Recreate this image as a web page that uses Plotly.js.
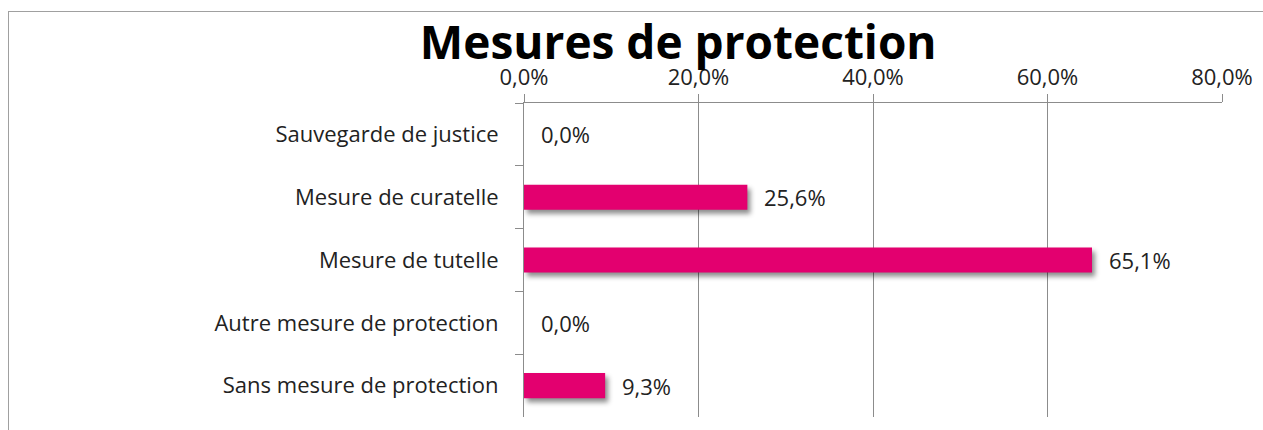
<!DOCTYPE html>
<html>
<head>
<meta charset="utf-8">
<script src="https://cdn.plot.ly/plotly-3.0.1.min.js"></script>
<style>
  html, body { margin:0; padding:0; overflow:hidden; background:#fff; }
  #frame { position:absolute; left:8px; top:11px; width:1400px; height:600px; border:1.5px solid #a0a0a0; box-sizing:border-box; pointer-events:none; z-index:5; }
  #chart { position:absolute; left:0; top:0; width:1263px; height:430px; }
  #chart .barlayer .point path { filter: drop-shadow(3px 4px 2.5px rgba(0,0,0,0.45)); }
</style>
</head>
<body>
<div id="chart"></div>
<div id="frame"></div>
<script>
const categories = ["Sauvegarde de justice", "Mesure de curatelle", "Mesure de tutelle", "Autre mesure de protection", "Sans mesure de protection"];
const values = [0.0, 25.6, 65.1, 0.0, 9.3];
const tickValues = [0, 20, 40, 60, 80];
const tickLabels = ["0,0%", "20,0%", "40,0%", "60,0%", "80,0%"];

const FONT = "Open Sans, Lato, sans-serif";
const trace = {
  type: "bar",
  orientation: "h",
  x: values,
  y: categories,
  width: 0.4,
  marker: { color: "#E3006F" },
  hoverinfo: "skip",
  cliponaxis: false
};

const annotations = values.map((v, i) => ({
  x: v, y: categories[i], xref: "x", yref: "y",
  text: v.toFixed(1).replace(".", ",") + "%",
  showarrow: false, xanchor: "left", yanchor: "middle", xshift: 15,
  font: { family: FONT, size: 22, color: "#222" }
}));

const layout = {
  width: 1263, height: 430,
  margin: { l: 524, r: 41, t: 103, b: 13 },
  paper_bgcolor: "#fff", plot_bgcolor: "#fff",
  showlegend: false,
  title: {
    text: "<b>Mesures de protection</b>",
    x: 0.537, xref: "container", xanchor: "center",
    y: 0.9, yref: "container", yanchor: "middle",
    font: { family: FONT, size: 46, color: "#000" }
  },
  xaxis: {
    side: "top", range: [0, 80], tickvals: tickValues, ticktext: tickLabels,
    showgrid: true, gridcolor: "#8c8c8c", gridwidth: 1,
    showline: true, linecolor: "#8c8c8c", linewidth: 1,
    ticks: "outside", ticklen: 8, tickcolor: "#8c8c8c",
    tickfont: { family: FONT, size: 22, color: "#222" },
    zeroline: false, fixedrange: true
  },
  yaxis: {
    autorange: "reversed", type: "category",
    showline: true, linecolor: "#8c8c8c", linewidth: 1,
    ticks: "outside", ticklen: 8, tickcolor: "#8c8c8c", tickson: "boundaries",
    ticklabelstandoff: 20,
    showgrid: false,
    tickfont: { family: FONT, size: 22, color: "#222" },
    fixedrange: true
  },
  annotations: annotations
};

Plotly.newPlot("chart", [trace], layout, { displayModeBar: false, staticPlot: true });
</script>
</body>
</html>
